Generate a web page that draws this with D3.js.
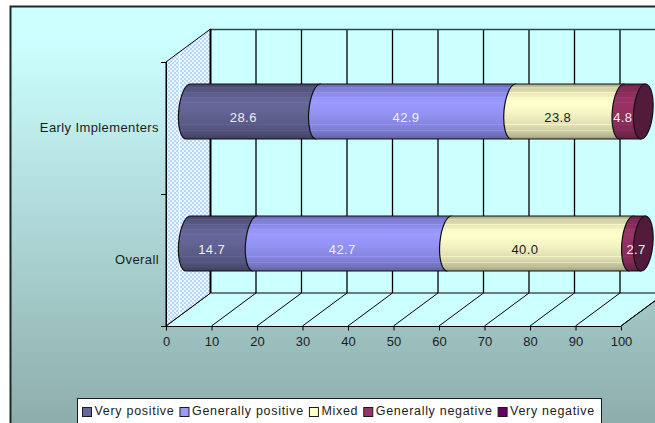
<!DOCTYPE html>
<html>
<head>
<meta charset="utf-8">
<style>
  html, body { margin: 0; padding: 0; background: #fff; }
  svg { display: block; }
  text { font-family: "Liberation Sans", Arial, sans-serif; fill: #1c1c1c; }
</style>
<script src="https://cdnjs.cloudflare.com/ajax/libs/d3/7.8.5/d3.min.js"></script>
</head>
<body>
<svg id="chart" width="655" height="423"></svg>
<script>
const categories = ["Overall", "Early Implementers"];
const seriesNames = ["Very positive", "Generally positive", "Mixed", "Generally negative", "Very negative"];
const veryPositive = [14.7, 28.6];
const generallyPositive = [42.7, 42.9];
const mixed = [40.0, 23.8];
const generallyNegative = [2.7, 4.8];
const veryNegative = [0, 0];
const xTicks = [0, 10, 20, 30, 40, 50, 60, 70, 80, 90, 100];
const seriesValues = [veryPositive, generallyPositive, mixed, generallyNegative, veryNegative];
const seriesColors = ["#666699", "#9999FF", "#FFFFCC", "#993366", "#660066"];
const labelColors = ["#eeeeee", "#eeeeee", "#1c1c1c", "#eeeeee", "#eeeeee"];

// Shading across the cylinder: [offset, brightness]; thin peaks are the highlight streaks.
const shading = [
  [0, .66], [.05, .76], [.07, .9], [.085, .82], [.14, .86], [.15, 1.0], [.165, .9],
  [.24, .95], [.25, 1.06], [.265, .98], [.33, 1.0], [.34, 1.06], [.355, 1.0], [.5, .97],
  [.62, .92], [.73, .88], [.74, 1.0], [.755, .87], [.83, .82], [.84, .94], [.855, .8], [.94, .72], [1, .6]
];

// Nudges for value labels that sit off their segment's centre: category -> per-series px
const labelNudge = { "Overall": [0, 0, -5.5, 8.5, 0], "Early Implementers": [0, 0, 0, 0, 0] };

const svg = d3.select("#chart");
const defs = svg.append("defs");

// Oblique projection: front floor edge, plus an offset to the back wall
const depth = { x: 44.5, y: -33 };
const W = 655, H = 423;
const x = d3.scaleLinear().domain([0, 100]).range([166, 621]);
const y = d3.scaleBand().domain(categories).range([326, 62]);
const yMid = c => y(c) + y.bandwidth() / 2;
const barX = v => x(v) + depth.x / 2;
const barY = c => yMid(c) + depth.y / 2;
const frontBottom = y.range()[0], frontTop = y.range()[1];

// Chart-area background
const bg = defs.append("linearGradient").attr("id", "bg").attr("x1", 0).attr("x2", 0).attr("y1", 0).attr("y2", 1);
bg.append("stop").attr("offset", 0).attr("stop-color", "#CCFFFF");
bg.append("stop").attr("offset", .08).attr("stop-color", "#CCFFFF");
bg.append("stop").attr("offset", 1).attr("stop-color", "#8CACAA");
svg.append("rect").attr("x", 10.5).attr("y", 6.5).attr("width", W).attr("height", H)
  .attr("fill", "url(#bg)").attr("stroke", "#1c2a2a").attr("stroke-width", 2);

// Dithered side wall
const pat = defs.append("pattern").attr("id", "wall").attr("patternUnits", "userSpaceOnUse")
  .attr("width", 4).attr("height", 4);
pat.append("rect").attr("width", 4).attr("height", 4).attr("fill", "#B4D6FF");
pat.append("rect").attr("width", 2).attr("height", 2).attr("fill", "#EEF6FF");
pat.append("rect").attr("x", 2).attr("y", 2).attr("width", 2).attr("height", 2).attr("fill", "#EEF6FF");

const x0 = x(0), x100 = x(100);
// Back wall
svg.append("rect").attr("x", x0 + depth.x).attr("y", frontTop + depth.y)
  .attr("width", x100 - x0).attr("height", frontBottom - frontTop).attr("fill", "#CCFFFF");
// Floor
svg.append("path")
  .attr("d", d3.line()([[x0, frontBottom], [x0 + depth.x, frontBottom + depth.y], [x100 + depth.x, frontBottom + depth.y], [x100, frontBottom]]))
  .attr("fill", "#CCFFFF").attr("stroke", "#000").attr("stroke-width", 1);
// Side wall
svg.append("path")
  .attr("d", d3.line()([[x0, frontTop], [x0 + depth.x, frontTop + depth.y], [x0 + depth.x, frontBottom + depth.y], [x0, frontBottom]]) + "Z")
  .attr("fill", "url(#wall)").attr("stroke", "#000").attr("stroke-width", 1);
svg.append("line").attr("x1", x0 + 13.5).attr("x2", x0 + 13.5).attr("y1", frontTop - 9).attr("y2", frontBottom - 11)
  .attr("stroke", "#fff").attr("stroke-width", 1);

// Gridlines on the back wall and across the floor
svg.append("g").selectAll("line").data(xTicks.slice(1)).join("line")
  .attr("x1", d => x(d) + depth.x).attr("x2", d => x(d) + depth.x)
  .attr("y1", frontTop + depth.y).attr("y2", frontBottom + depth.y)
  .attr("stroke", "#000").attr("stroke-width", 1.3);
svg.append("g").selectAll("line").data(xTicks.slice(1)).join("line")
  .attr("x1", d => x(d)).attr("x2", d => x(d) + depth.x)
  .attr("y1", frontBottom).attr("y2", frontBottom + depth.y)
  .attr("stroke", "#000").attr("stroke-width", 1);
svg.append("line").attr("x1", x0 + depth.x).attr("x2", W).attr("y1", frontTop + depth.y + .5).attr("y2", frontTop + depth.y + .5)
  .attr("stroke", "#2c4a4a").attr("stroke-width", 1.4);
svg.append("line").attr("x1", x0 + depth.x).attr("x2", x0 + depth.x)
  .attr("y1", frontTop + depth.y).attr("y2", frontBottom + depth.y)
  .attr("stroke", "#000").attr("stroke-width", 2);

// Axes
const xAxis = d3.axisBottom(x).tickValues(xTicks).tickSize(4).tickPadding(6).tickFormat(d3.format("d"));
const gx = svg.append("g").attr("transform", `translate(0,${frontBottom + .5})`).call(xAxis);
gx.select(".domain").remove();
gx.append("line").attr("x1", x0 - 5).attr("x2", x100).attr("stroke", "#000");
gx.selectAll("text").style("font-family", '"Liberation Sans", Arial, sans-serif').style("font-size", "13px")
  .style("fill", "#1c1c1c");

const yBoundaries = [0, 1, 2].map(i => frontBottom + (frontTop - frontBottom) * i / 2);
svg.append("g").selectAll("line").data(yBoundaries).join("line")
  .attr("x1", x0 - 5).attr("x2", x0).attr("y1", d => d + .5).attr("y2", d => d + .5).attr("stroke", "#000");
svg.append("line").attr("x1", x0 + .5).attr("x2", x0 + .5).attr("y1", frontTop).attr("y2", frontBottom).attr("stroke", "#000");
svg.append("g").selectAll("text").data(categories).join("text")
  .attr("x", x0 - 7).attr("y", d => yMid(d) + 4)
  .attr("text-anchor", "end").style("font-size", "13px").style("letter-spacing", ".4px").text(d => d);

// Shaded fills for the cylinders
seriesColors.forEach((c, i) => {
  const g = defs.append("linearGradient").attr("id", `bar${i}`).attr("x1", 0).attr("x2", 0).attr("y1", 0).attr("y2", 1);
  shading.forEach(([o, b]) => {
    const base = d3.rgb(c);
    const shade = b <= 1 ? d3.interpolateRgb("#000", base)(b) : d3.interpolateRgb(base, "#fff")(b - 1);
    g.append("stop").attr("offset", o).attr("stop-color", shade);
  });
});

// Cylinder geometry: a slightly tilted ellipse cross-section
const rx = 9.6, ry = 27.6, tilt = 5;
const dxTop = ry * Math.sin(tilt * Math.PI / 180), dyTop = ry * Math.cos(tilt * Math.PI / 180);
const segmentPath = (a, b, cy) => {
  const xa = barX(a), xb = barX(b);
  return `M${xa + dxTop},${cy - dyTop}A${rx},${ry} ${tilt} 0 0 ${xa - dxTop},${cy + dyTop}` +
    `L${xb - dxTop},${cy + dyTop}L${xb + dxTop},${cy - dyTop}Z`;
};

const barsG = svg.append("g");
categories.forEach((cat, ci) => {
  const cy = barY(cat);
  let acc = 0;
  const g = barsG.append("g");
  seriesValues.forEach((vals, si) => {
    const v = vals[ci];
    if (v > 0) {
      const end = si === 3 ? 100 : acc + v;
      // The next segment covers this one's right side, leaving only its bulging seam
      g.append("path").attr("d", segmentPath(acc, end, cy))
        .attr("fill", `url(#bar${si})`).attr("stroke", "#111").attr("stroke-width", 1.2).attr("stroke-linejoin", "round");
    }
    acc += v;
  });
  // Dark end cap
  g.append("ellipse").attr("rx", rx).attr("ry", ry)
    .attr("transform", `translate(${barX(100)},${cy}) rotate(${tilt})`)
    .attr("fill", "#521B3C").attr("stroke", "#111").attr("stroke-width", 1.2);
  // Value labels
  acc = 0;
  seriesValues.forEach((vals, si) => {
    const v = vals[ci];
    if (v > 0) {
      svg.append("text")
        .attr("x", barX(acc + v / 2) - 10 + labelNudge[cat][si]).attr("y", cy + 10)
        .attr("text-anchor", "middle").style("font-size", "13px").style("letter-spacing", ".4px")
        .style("fill", labelColors[si]).text(v.toFixed(1));
    }
    acc += v;
  });
});

// Legend
const legendLeft = 77.5, legendTop = 398.5, legendRight = 601.5;
svg.append("rect").attr("x", legendLeft).attr("y", legendTop)
  .attr("width", legendRight - legendLeft).attr("height", 40)
  .attr("fill", "#fff").attr("stroke", "#1c1c1c").attr("stroke-width", 1);
let lx = legendLeft + 4.5;
seriesNames.forEach((name, i) => {
  svg.append("rect").attr("x", lx + .5).attr("y", 407.5).attr("width", 9).attr("height", 9)
    .attr("fill", seriesColors[i]).attr("stroke", "#1c1c1c");
  const t = svg.append("text").attr("x", lx + 12.5).attr("y", 414.5)
    .style("font-size", "12.5px").style("letter-spacing", ".7px").text(name);
  lx += 12.5 + t.node().getComputedTextLength() + 5;
});
</script>
</body>
</html>
